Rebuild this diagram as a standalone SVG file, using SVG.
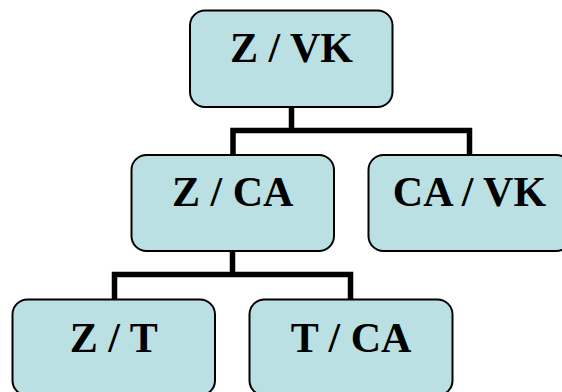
<svg xmlns="http://www.w3.org/2000/svg" width="562" height="392" viewBox="0 0 562 392">
  <style>
    .box { fill: #bbe0e3; stroke: #000; stroke-width: 2; }
    .lbl { font-family: "Liberation Serif", "Times New Roman", serif; font-weight: bold; font-size: 42px; fill: #000; text-anchor: middle; }
    .wire { fill: none; stroke: #000; stroke-width: 5.5; stroke-linejoin: miter; stroke-linecap: butt; }
  </style>
  <rect width="562" height="392" fill="#fff"/>
  <g id="connectors">
    <path class="wire" d="M291.5 107 V130.5 M233 155 V130.5 H469.5 V155"/>
    <path class="wire" d="M232.5 251 V274.5 M114.5 299 V274.5 H350.5 V299"/>
  </g>
  <g id="node-z-vk">
    <rect class="box" x="190" y="10.5" width="202.5" height="96.5" rx="15"/>
    <text class="lbl" x="291.5" y="62">Z / VK</text>
  </g>
  <g id="node-z-ca">
    <rect class="box" x="131.5" y="155" width="202.5" height="96" rx="15"/>
    <text class="lbl" x="232.8" y="206">Z / CA</text>
  </g>
  <g id="node-ca-vk">
    <rect class="box" x="368.5" y="155" width="202.5" height="96" rx="15"/>
    <text class="lbl" x="469.5" y="206">CA / VK</text>
  </g>
  <g id="node-z-t">
    <rect class="box" x="12.5" y="299.5" width="202.5" height="96" rx="15"/>
    <text class="lbl" x="113.8" y="352">Z / T</text>
  </g>
  <g id="node-t-ca">
    <rect class="box" x="249.5" y="299.5" width="203" height="96" rx="15"/>
    <text class="lbl" x="351" y="352">T / CA</text>
  </g>
</svg>
